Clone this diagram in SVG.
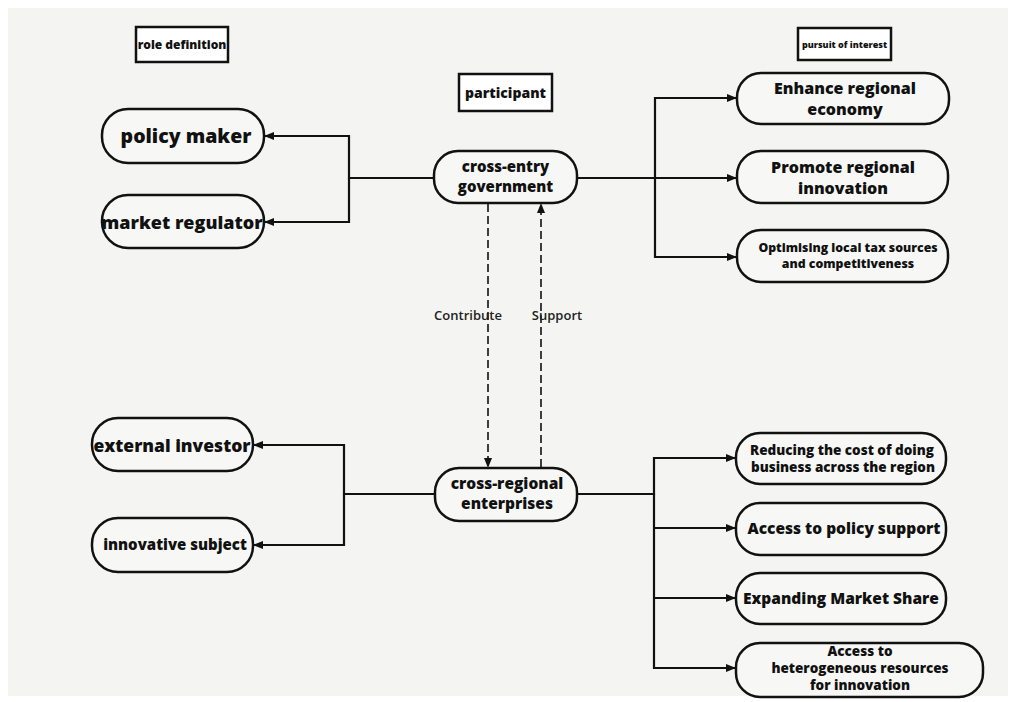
<svg xmlns="http://www.w3.org/2000/svg" width="1017" height="702" viewBox="0 0 1017 702">
<defs>
<marker id="ah" viewBox="0 0 10 10" refX="9" refY="5" markerWidth="10" markerHeight="10" markerUnits="userSpaceOnUse" orient="auto">
<path d="M0,1 L10,5 L0,9 z" fill="#111"/>
</marker>
</defs>
<style>
.node{fill:#f7f8f5;stroke:#111;stroke-width:2.5}
.lbl{fill:#fff;stroke:#111;stroke-width:2.5}
.t{font-family:"Open Sans","Liberation Sans",sans-serif;font-weight:800;fill:#111;text-anchor:middle}
.c{fill:none;stroke:#111;stroke-width:2.2}
.d{fill:none;stroke:#111;stroke-width:1.6;stroke-dasharray:8 4}
.e{font-family:"Open Sans","Liberation Sans",sans-serif;font-weight:600;fill:#222;text-anchor:middle;font-size:13px}
</style>
<rect x="0" y="0" width="1017" height="702" fill="#ffffff"/>
<rect x="8" y="8" width="1000" height="688" fill="#f4f5f2"/>

<g id="connectors">
<path class="c" d="M433,178 H349 V136 H265" marker-end="url(#ah)"/>
<path class="c" d="M349,178 V222 H265" marker-end="url(#ah)"/>
<path class="c" d="M578,178 H655 V98 H736" marker-end="url(#ah)"/>
<path class="c" d="M655,178 H736" marker-end="url(#ah)"/>
<path class="c" d="M655,178 V257 H736" marker-end="url(#ah)"/>
<path class="d" d="M488,204 V467" marker-end="url(#ah)"/>
<path class="d" d="M541,467 V204" marker-end="url(#ah)"/>
<path class="c" d="M434,494 H344 V445 H254" marker-end="url(#ah)"/>
<path class="c" d="M344,494 V545 H254" marker-end="url(#ah)"/>
<path class="c" d="M578,494 H654 V458 H735" marker-end="url(#ah)"/>
<path class="c" d="M654,494 V668 H735" marker-end="url(#ah)"/>
<path class="c" d="M654,528 H735" marker-end="url(#ah)"/>
<path class="c" d="M654,598 H735" marker-end="url(#ah)"/>
<text class="e" x="468" y="320">Contribute</text>
<text class="e" x="557" y="320">Support</text>
</g>

<g id="role-definition">
<rect class="lbl" x="136" y="27" width="92" height="35"/>
<text class="t" x="182" y="49" font-size="12">role definition</text>
</g>
<g id="participant">
<rect class="lbl" x="459" y="74" width="93" height="37"/>
<text class="t" x="505.5" y="97.5" font-size="14">participant</text>
</g>
<g id="pursuit-of-interest">
<rect class="lbl" x="798" y="28" width="93" height="32"/>
<text class="t" x="844.5" y="48" font-size="9">pursuit of interest</text>
</g>

<g id="policy-maker">
<rect class="node" x="102" y="109" width="162" height="54" rx="26"/>
<text class="t" x="186" y="143" font-size="19.5">policy maker</text>
</g>
<g id="market-regulator">
<rect class="node" x="102" y="195" width="162" height="53" rx="26"/>
<text class="t" x="182" y="229" font-size="18">market regulator</text>
</g>

<g id="cross-entry-government">
<rect class="node" x="434" y="151" width="143" height="52" rx="24"/>
<text class="t" x="505.5" y="172" font-size="15">cross-entry</text>
<text class="t" x="505.5" y="192" font-size="15">government</text>
</g>

<g id="enhance-regional-economy">
<rect class="node" x="737" y="73" width="212" height="51" rx="24"/>
<text class="t" x="845" y="94" font-size="16">Enhance regional</text>
<text class="t" x="845" y="115" font-size="16">economy</text>
</g>
<g id="promote-regional-innovation">
<rect class="node" x="737" y="151" width="211" height="52" rx="24"/>
<text class="t" x="843" y="173" font-size="16">Promote regional</text>
<text class="t" x="843" y="194" font-size="16">innovation</text>
</g>
<g id="optimising">
<rect class="node" x="737" y="230" width="211" height="52" rx="24"/>
<text class="t" x="848" y="252" font-size="12.3">Optimising local tax sources</text>
<text class="t" x="848" y="268" font-size="12.3">and competitiveness</text>
</g>

<g id="cross-regional-enterprises">
<rect class="node" x="435" y="468" width="142" height="53" rx="24"/>
<text class="t" x="507" y="489" font-size="15.5">cross-regional</text>
<text class="t" x="507" y="509" font-size="15.5">enterprises</text>
</g>

<g id="external-investor">
<rect class="node" x="92" y="418" width="161" height="53" rx="26"/>
<text class="t" x="172" y="452" font-size="17.5">external investor</text>
</g>
<g id="innovative-subject">
<rect class="node" x="92" y="518" width="161" height="54" rx="26"/>
<text class="t" x="175" y="550" font-size="15">innovative subject</text>
</g>

<g id="reducing-cost">
<rect class="node" x="736" y="433" width="210" height="51" rx="24"/>
<text class="t" x="842" y="455" font-size="13.5">Reducing the cost of doing</text>
<text class="t" x="843" y="472" font-size="13.5">business across the region</text>
</g>
<g id="access-policy-support">
<rect class="node" x="736" y="503" width="210" height="52" rx="24"/>
<text class="t" x="844" y="534" font-size="15.5">Access to policy support</text>
</g>
<g id="expanding-market-share">
<rect class="node" x="736" y="573" width="210" height="51" rx="24"/>
<text class="t" x="841" y="604" font-size="15.5">Expanding Market Share</text>
</g>
<g id="access-heterogeneous">
<rect class="node" x="736" y="643" width="247" height="54" rx="24"/>
<text class="t" x="860" y="656" font-size="13.5">Access to</text>
<text class="t" x="860" y="673" font-size="13.5">heterogeneous resources</text>
<text class="t" x="860" y="690" font-size="13.5">for innovation</text>
</g>
</svg>
